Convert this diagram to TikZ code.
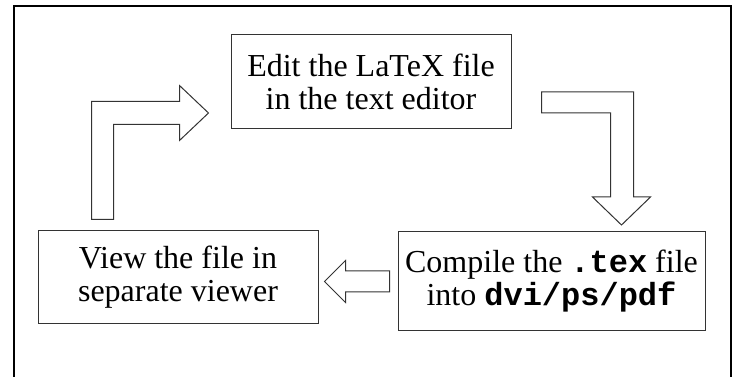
\documentclass[tikz,border=0pt]{standalone}
\usepackage{fontspec}
\setmainfont{Liberation Serif}
\setmonofont{Liberation Mono}
\usepackage{tikz}
\usetikzlibrary{calc}

\begin{document}
\begin{tikzpicture}[
  x=1pt, y=1pt,
  font=\fontsize{32}{33}\selectfont,
  box/.style={draw=black!80,line width=1pt,align=center,inner sep=0pt},
  blockarr/.style={draw=black!80,line width=1pt,fill=white,line join=miter},
  frame/.style={line width=1.4pt,black},
]
\useasboundingbox (0,0) rectangle (736,377);
\draw[frame] (14,0) -- (14,371) -- (731,371) -- (731,0);

\node[box, minimum width=280pt, minimum height=94pt] (edit) at (371,295)
  {Edit the LaTeX file\\in the text editor};
\node[box, minimum width=307pt, minimum height=99pt] (compile) at (551.5,95.5)
  {Compile the \texttt{\bfseries .tex} file\\into \texttt{\bfseries dvi/ps/pdf}};
\node[box, minimum width=280pt, minimum height=93pt] (view) at (178,99.5)
  {View the file in\\separate viewer};

% edit -> compile
\coordinate (toCompile) at ($(edit.east)+(30,-10)$);
\draw[blockarr] (toCompile) -- ++(92,0) -- ++(0,-105) -- ++(17,0) -- ++(-29,-28)
  -- ++(-29,28) -- ++(18,0) -- ++(0,84) -- ++(-69,0) -- cycle;
% compile -> view
\coordinate (toView) at ($(compile.west)+(-8,10.5)$);
\draw[blockarr] (toView) -- ++(-44,0) -- ++(0,10.5) -- ++(-21,-21) -- ++(21,-21)
  -- ++(0,10.5) -- ++(44,0) -- cycle;
% view -> edit
\coordinate (toEdit) at ($(view.north west)+(54,11)$);
\draw[blockarr] (toEdit) -- ++(0,118) -- ++(88,0) -- ++(0,16) -- ++(29,-27.5)
  -- ++(-29,-27.5) -- ++(0,16) -- ++(-66,0) -- ++(0,-95) -- cycle;
\end{tikzpicture}
\end{document}
